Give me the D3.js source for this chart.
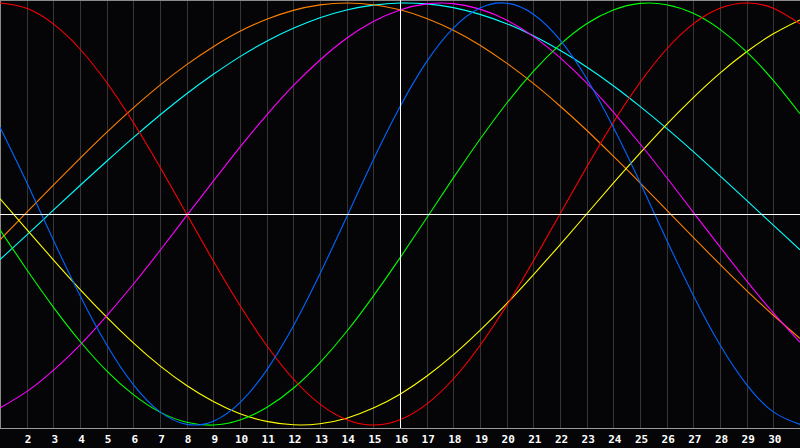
<!DOCTYPE html>
<html>
<head>
<meta charset="utf-8">
<script src="https://cdn.jsdelivr.net/npm/d3@7"></script>
<style>
    html, body { margin: 0; padding: 0; background: #050508; }
    #chart { width: 800px; height: 448px; }
</style>
</head>
<body>
<div id="chart"></div>
<script>
// days of the month shown on the x axis
const days = d3.range(1, 32);
const today = 16;
const tickDays = d3.range(2, 31);

// cycle values, one per day (day 1 .. day 31)
const physical = [0.411, 0.150, -0.123, -0.386, -0.620, -0.809, -0.938, -0.997, -0.982, -0.894,
    -0.740, -0.531, -0.283, -0.014, 0.257, 0.508, 0.722, 0.881, 0.976, 0.999,
    0.947, 0.825, 0.642, 0.411, 0.150, -0.123, -0.386, -0.620, -0.809, -0.938, -0.997];
const emotional = [1.000, 0.975, 0.901, 0.782, 0.623, 0.434, 0.223, 0.000, -0.223, -0.434,
    -0.623, -0.782, -0.901, -0.975, -1.000, -0.975, -0.901, -0.782, -0.623, -0.434,
    -0.223, 0.000, 0.223, 0.434, 0.623, 0.782, 0.901, 0.975, 1.000, 0.975, 0.901];
const intellectual = [-0.076, -0.263, -0.441, -0.603, -0.743, -0.856, -0.939, -0.987, -1.000, -0.976,
    -0.917, -0.826, -0.704, -0.557, -0.389, -0.208, -0.019, 0.171, 0.354, 0.525,
    0.676, 0.803, 0.902, 0.967, 0.998, 0.992, 0.951, 0.875, 0.768, 0.633, 0.475];
const intuitive = [-0.919, -0.842, -0.741, -0.621, -0.483, -0.333, -0.173, -0.008, 0.156, 0.317,
    0.469, 0.608, 0.730, 0.833, 0.912, 0.967, 0.996, 0.997, 0.971, 0.919,
    0.842, 0.741, 0.621, 0.483, 0.333, 0.173, 0.008, -0.156, -0.317, -0.469, -0.608];
const aesthetic = [0.073, -0.073, -0.217, -0.357, -0.489, -0.611, -0.720, -0.813, -0.889, -0.947,
    -0.983, -0.999, -0.994, -0.968, -0.920, -0.854, -0.769, -0.668, -0.552, -0.425,
    -0.288, -0.146, 0.000, 0.146, 0.288, 0.425, 0.552, 0.668, 0.769, 0.854, 0.920];
const awareness = [-0.122, 0.008, 0.137, 0.264, 0.387, 0.503, 0.611, 0.708, 0.793, 0.866,
    0.923, 0.965, 0.991, 1.000, 0.992, 0.968, 0.927, 0.871, 0.800, 0.715,
    0.619, 0.512, 0.397, 0.274, 0.148, 0.018, -0.111, -0.239, -0.363, -0.480, -0.590];
const spiritual = [-0.216, -0.100, 0.018, 0.135, 0.250, 0.362, 0.469, 0.570, 0.662, 0.746,
    0.819, 0.880, 0.930, 0.967, 0.990, 1.000, 0.996, 0.978, 0.946, 0.902,
    0.845, 0.776, 0.697, 0.608, 0.510, 0.406, 0.296, 0.181, 0.065, -0.053, -0.170];

const series = [
    { name: 'spiritual', values: spiritual, color: '#00ffff' },
    { name: 'awareness', values: awareness, color: '#ff8000' },
    { name: 'aesthetic', values: aesthetic, color: '#ffff00' },
    { name: 'intuitive', values: intuitive, color: '#ff00ff' },
    { name: 'intellectual', values: intellectual, color: '#00ff00' },
    { name: 'emotional', values: emotional, color: '#ff0000' },
    { name: 'physical', values: physical, color: '#0066ff' }
];

const width = 800;
const height = 448;
const plotBottom = 428;

const svg = d3.select('#chart')
    .append('svg')
    .attr('width', width)
    .attr('height', height);

svg.append('rect')
    .attr('width', width)
    .attr('height', height)
    .attr('fill', '#050508');

const x = d3.scaleLinear().domain([1, 31]).range([0, width]);
const y = d3.scaleLinear().domain([-1, 1]).range([425, 3]);

// vertical day grid
svg.append('g')
    .selectAll('line')
    .data(days)
    .enter()
    .append('line')
    .attr('x1', d => Math.round(x(d)) + 0.5)
    .attr('x2', d => Math.round(x(d)) + 0.5)
    .attr('y1', 0)
    .attr('y2', plotBottom)
    .attr('stroke', '#363636')
    .attr('stroke-width', 1);

// frame: top, left, bottom
svg.append('line')
    .attr('x1', 0).attr('x2', width).attr('y1', 0.5).attr('y2', 0.5)
    .attr('stroke', '#8a8a8a');
svg.append('line')
    .attr('x1', 0.5).attr('x2', 0.5).attr('y1', 0).attr('y2', plotBottom)
    .attr('stroke', '#8a8a8a');
svg.append('line')
    .attr('x1', 0).attr('x2', width).attr('y1', plotBottom + 0.5).attr('y2', plotBottom + 0.5)
    .attr('stroke', '#9a9a9a');

// cycle curves
const line = d3.line()
    .x((d, i) => x(days[i]))
    .y(d => y(d))
    .curve(d3.curveNatural);

svg.append('g')
    .selectAll('path')
    .data(series)
    .enter()
    .append('path')
    .attr('d', d => line(d.values))
    .attr('fill', 'none')
    .attr('stroke', d => d.color)
    .attr('stroke-width', 1.1);

// zero line and today marker
svg.append('line')
    .attr('x1', 0).attr('x2', width)
    .attr('y1', Math.round(y(0)) + 0.5).attr('y2', Math.round(y(0)) + 0.5)
    .attr('stroke', '#ffffff');
svg.append('line')
    .attr('x1', Math.round(x(today)) + 0.5).attr('x2', Math.round(x(today)) + 0.5)
    .attr('y1', 0).attr('y2', plotBottom)
    .attr('stroke', '#ffffff');

// day labels
const xAxis = d3.axisBottom(x)
    .tickValues(tickDays)
    .tickSize(0)
    .tickPadding(0)
    .tickFormat(d3.format('d'));

const axisG = svg.append('g')
    .attr('transform', `translate(1,${plotBottom})`)
    .call(xAxis);

axisG.select('.domain').remove();
axisG.selectAll('text')
    .attr('dy', null)
    .attr('y', 15)
    .attr('fill', '#ffffff')
    .style('font-family', '"DejaVu Sans Mono", monospace')
    .style('font-weight', 'bold')
    .style('font-size', '11px');
</script>
</body>
</html>
